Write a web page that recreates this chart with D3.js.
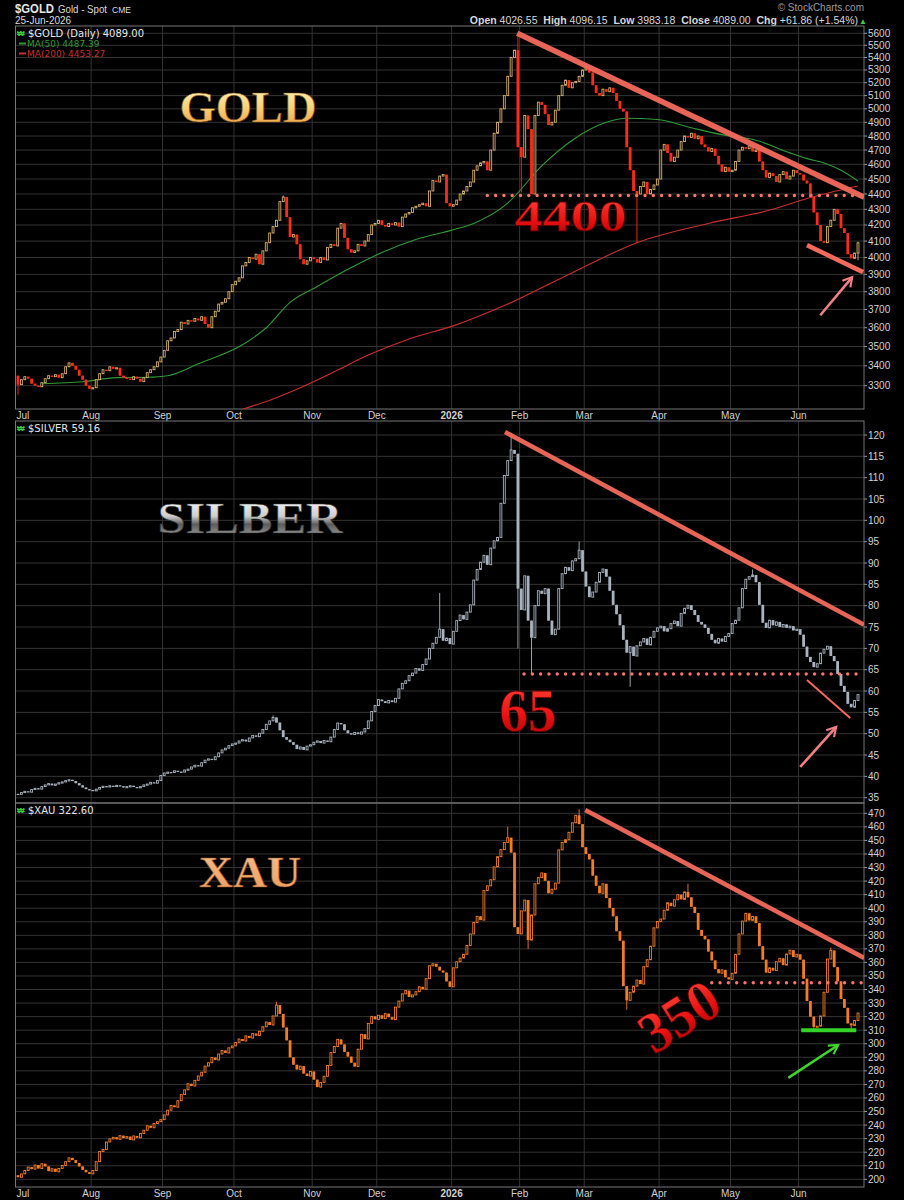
<!DOCTYPE html>
<html>
<head>
<meta charset="utf-8">
<script src="https://cdn.jsdelivr.net/npm/d3@7"></script>
<style>
  body { margin: 0; background: #000; }
  svg { display: block; }
  text { font-family: "Liberation Sans", Arial, sans-serif; }
</style>
</head>
<body>
<svg id="chart" width="904" height="1200"></svg>
<script>
// trading calendar (weekdays minus exchange holidays)
var holidays = ["2025-07-04", "2025-09-01", "2025-11-27", "2025-12-25", "2026-01-01",
  "2026-01-19", "2026-02-16", "2026-04-03", "2026-05-25", "2026-06-19"];
var monthLabels = ["Jul", "Aug", "Sep", "Oct", "Nov", "Dec", "2026", "Feb", "Mar", "Apr", "May", "Jun"];

var goldTicks = [3300, 3400, 3500, 3600, 3700, 3800, 3900, 4000, 4100, 4200, 4300, 4400, 4500,
  4600, 4700, 4800, 4900, 5000, 5100, 5200, 5300, 5400, 5500, 5600];
var silverTicks = [35, 40, 45, 50, 55, 60, 65, 70, 75, 80, 85, 90, 95, 100, 105, 110, 115, 120];
var xauTicks = [200, 210, 220, 230, 240, 250, 260, 270, 280, 290, 300, 310, 320, 330, 340, 350,
  360, 370, 380, 390, 400, 410, 420, 430, 440, 450, 460, 470];

// daily closes (one line per month)
var goldFirstOpen = 3350;
var goldClose = [
  3305, 3330, 3345, 3335, 3310, 3300, 3295, 3315, 3335, 3350, 3345, 3355, 3340, 3360, 3395, 3415, 3400, 3380, 3350, 3330, 3300, 3285,
  3290, 3330, 3360, 3380, 3375, 3395, 3385, 3390, 3350, 3340, 3335, 3330, 3345, 3335, 3320, 3340, 3365, 3380, 3395, 3420, 3445,
  3480, 3530, 3545, 3580, 3590, 3630, 3620, 3640, 3635, 3650, 3640, 3660, 3620, 3600, 3660, 3690, 3730, 3740, 3760, 3800, 3840,
  3860, 3880, 3950, 3970, 4000, 3990, 4020, 3960, 4040, 4090, 4150, 4190, 4230, 4350, 4380, 4250, 4125, 4140, 4080, 3990, 3960, 3980, 4000,
  3990, 3970, 4000, 3985, 4060, 4080, 4070, 4180, 4210, 4120, 4050, 4030, 4040, 4080, 4070, 4100, 4140, 4200, 4210,
  4230, 4200, 4190, 4210, 4200, 4215, 4190, 4250, 4270, 4280, 4310, 4320, 4330, 4340, 4320, 4420, 4490, 4480, 4520, 4530, 4340, 4320,
  4330, 4360, 4400, 4420, 4450, 4480, 4560, 4590, 4610, 4620, 4560, 4700, 4820, 4900, 5000, 5100, 5250, 5400, 5460, 4720,
  4650, 4950, 4850, 4400, 4950, 5050, 5030, 4960, 4880, 4900, 4990, 5100, 5180, 5220, 5160, 5200, 5210, 5250, 5300,
  5330, 5280, 5180, 5120, 5100, 5150, 5130, 5160, 5120, 5060, 5000, 4980, 4720, 4560, 4420, 4400, 4450, 4480, 4400, 4430, 4460, 4500,
  4700, 4740, 4680, 4620, 4650, 4700, 4760, 4800, 4790, 4820, 4780, 4800, 4740, 4720, 4690, 4710, 4660, 4600, 4550, 4580, 4550,
  4560, 4620, 4700, 4720, 4710, 4730, 4690, 4700, 4620, 4560, 4510, 4540, 4520, 4480, 4530, 4550, 4500, 4520, 4560, 4540,
  4530, 4490, 4470, 4380, 4280, 4200, 4100, 4090, 4190, 4230, 4300, 4270, 4180, 4150, 4020, 3995, 4027, 4089
];
var goldHighs = [[147, 5600], [78, 4390], [247, 4096]];
var goldLows = [[0, 3255], [148, 4410], [182, 4090], [247, 3983]];
var goldMa50 = [[7, 3310], [19, 3320], [29, 3340], [38, 3342], [44, 3350], [53, 3410], [67, 3520], [73, 3600],
  [80, 3740], [88, 3830], [98, 3940], [107, 4030], [117, 4110], [128, 4170], [134, 4210], [144, 4340],
  [154, 4590], [163, 4770], [173, 4900], [179, 4930], [188, 4920], [198, 4860], [207, 4810], [217, 4770],
  [227, 4680], [232, 4640], [237, 4610], [242, 4560], [247, 4487]];
var goldMa200 = [[66, 3185], [75, 3235], [83, 3290], [93, 3370], [103, 3455], [115, 3540], [128, 3610],
  [144, 3730], [163, 3910], [182, 4090], [203, 4210], [222, 4300], [232, 4370], [247, 4453]];

var silverFirstOpen = 35.9;
var silverClose = [
  35.8, 36.2, 36.5, 36.3, 36.9, 37.2, 37.0, 37.6, 38.0, 38.3, 37.9, 38.2, 38.5, 38.7, 39.0, 39.2, 38.9, 38.4, 37.9, 37.4, 37.0, 36.8,
  36.6, 37.0, 37.4, 37.7, 37.5, 37.8, 37.6, 37.9, 37.7, 37.4, 37.6, 37.8, 37.5, 37.3, 37.6, 38.0, 38.2, 38.6, 38.4, 39.0, 40.2,
  40.8, 41.0, 40.9, 41.3, 41.1, 41.0, 41.5, 41.7, 42.2, 42.6, 42.4, 43.2, 43.8, 44.1, 43.9, 44.6, 45.5, 46.2, 46.6, 47.2, 47.6,
  47.8, 48.3, 48.6, 48.2, 49.0, 49.6, 49.3, 50.1, 51.0, 52.2, 53.0, 53.8, 52.6, 50.8, 49.2, 48.6, 48.0, 47.4, 46.4, 46.9, 46.2, 47.1, 47.4,
  48.0, 48.3, 47.8, 48.4, 48.1, 49.2, 51.0, 52.5, 52.2, 50.8, 50.1, 49.8, 50.3, 49.9, 50.4, 51.2, 53.0, 55.2, 56.6,
  58.0, 57.6, 57.2, 57.8, 57.4, 58.3, 60.5, 61.8, 62.4, 63.6, 64.2, 65.3, 64.8, 66.2, 67.5, 70.0, 71.2, 72.6, 74.5, 71.8, 72.4, 71.0,
  74.0, 76.5, 77.8, 76.8, 78.5, 80.2, 86.0, 88.5, 90.2, 91.8, 89.6, 93.5, 95.2, 96.0, 104.0, 110.5, 114.0, 116.5, 115.6, 84.0,
  79.0, 87.0, 76.5, 72.5, 80.0, 83.5, 82.8, 84.0, 76.5, 73.2, 74.5, 84.0, 87.5, 89.0, 88.2, 90.5, 91.0, 93.0, 88.0,
  84.5, 82.0, 83.2, 85.5, 87.8, 88.6, 86.8, 83.5, 80.2, 78.0, 75.4, 72.0, 69.0, 70.4, 68.2, 70.6, 71.5, 72.3, 70.8, 72.6, 74.0, 74.8,
  75.2, 74.0, 74.6, 75.8, 76.4, 75.2, 78.2, 79.4, 80.1, 79.0, 77.8, 76.2, 75.6, 74.8, 73.4, 72.0, 71.2, 72.3, 71.6, 72.8, 73.5,
  75.8, 76.6, 79.5, 84.0, 86.2, 86.8, 87.2, 85.5, 80.2, 76.0, 74.8, 76.6, 75.4, 76.2, 75.0, 75.6, 74.8, 75.2, 74.2, 74.5,
  73.2, 70.4, 68.0, 66.8, 65.6, 66.4, 68.9, 69.8, 70.5, 68.2, 67.0, 64.0, 61.2, 59.8, 57.0, 56.2, 57.8, 59.16
];
var silverHighs = [[124, 83], [145, 120.5], [165, 95], [216, 88.5], [75, 54.3]];
var silverLows = [[151, 64], [180, 61], [147, 70]];

var xauFirstOpen = 203;
var xauClose = [
  201.5, 204.0, 206.5, 209.0, 207.5, 210.5, 208.0, 211.5, 209.5, 206.0, 207.8, 205.5, 208.0, 210.2, 213.0, 215.8, 214.2, 212.0, 209.5, 207.0, 205.2, 204.0,
  206.5, 213.0, 220.5, 222.0, 227.5, 229.8, 231.0, 229.5, 232.2, 230.4, 231.5, 229.0, 232.0, 230.6, 233.8, 236.2, 239.5, 238.0, 241.2, 242.5, 244.0,
  247.5, 251.0, 254.5, 253.2, 258.0, 262.5, 266.0, 270.5, 268.8, 273.0, 276.2, 279.0, 283.5, 286.0, 289.8, 288.0, 292.4, 295.0, 293.2, 297.0, 298.4,
  301.0, 303.5, 302.0, 305.8, 304.2, 307.5, 306.0, 309.2, 312.5, 316.0, 313.8, 320.5, 328.5, 322.0, 312.0, 302.5, 290.0, 284.5, 281.0, 283.5, 278.0, 276.2, 279.5,
  273.5, 268.0, 271.5, 276.0, 284.0, 293.5, 298.0, 303.2, 299.5, 294.0, 290.5, 286.0, 283.2, 296.0, 307.0, 303.5, 315.0, 320.2, 318.0,
  321.0, 318.5, 322.2, 319.6, 317.8, 327.0, 331.5, 336.8, 339.2, 334.5, 336.0, 338.4, 342.0, 340.2, 348.0, 357.5, 359.0, 356.8, 354.0, 352.5, 346.0, 342.0,
  356.0, 360.5, 363.2, 366.0, 372.5, 381.0, 389.5, 394.0, 391.2, 413.0, 416.5, 421.0, 430.5, 438.0, 443.2, 448.5, 452.0, 441.0, 386.0, 381.0,
  398.0, 406.0, 376.5, 395.0, 418.0, 422.5, 426.0, 420.2, 411.0, 414.0, 418.5, 443.0, 448.5, 450.5, 456.0, 463.0, 468.5, 462.0, 445.0,
  440.0, 436.0, 424.0, 416.5, 411.0, 418.0, 407.5, 400.2, 394.0, 383.0, 376.0, 342.5, 332.0, 338.0, 342.5, 347.0, 344.0, 356.8, 362.0, 372.0, 385.5, 390.2,
  392.0, 398.5, 404.0, 401.5, 406.2, 410.0, 406.5, 412.0, 408.0, 401.0, 396.5, 384.0, 379.5, 377.0, 368.0, 361.5, 355.0, 352.0, 354.5, 349.0, 347.5,
  352.0, 366.0, 381.0, 390.5, 396.2, 391.0, 394.0, 389.0, 372.0, 362.0, 352.5, 356.0, 354.0, 360.5, 363.0, 358.0, 366.2, 369.0, 364.0, 366.0,
  362.0, 348.0, 331.5, 320.0, 312.5, 313.0, 320.5, 338.0, 362.5, 368.8, 356.5, 346.0, 333.0, 326.5, 315.0, 313.5, 317.2, 322.6
];
var xauHighs = [[144, 460], [165, 473], [197, 418], [239, 371], [76, 331]];
var xauLows = [[179, 325], [234, 310], [245, 310], [150, 370]];

// annotations, in [day index, price]
var goldTrend = [[146.8, 5600], [248.8, 4379]];
var goldChannel = [[232, 4075], [248.5, 3913]];
var goldArrow = [[235.9, 3668], [245.3, 3884]];
var goldLevel = [[138, 4390], [248.5, 4390]];
var silverTrend = [[143.2, 120.7], [248.8, 75.5]];
var silverChannel = [[232, 62.6], [244.7, 53.7]];
var silverArrow = [[230, 42.2], [240.6, 51.6]];
var silverLevel = [[148.8, 64], [248.5, 64]];
var xauTrend = [[166.8, 472.4], [248.8, 363.3]];
var xauSupport = [[230.3, 310], [246.5, 310]];
var xauArrow = [[226.5, 274.8], [241.2, 299.1]];
var xauLevel = [[204, 345], [248.5, 345]];

// ---- calendar
var days = [];
for (var d = new Date(Date.UTC(2025, 6, 1)); d.getTime() <= Date.UTC(2026, 5, 25); d.setUTCDate(d.getUTCDate() + 1)) {
  var wd = d.getUTCDay();
  var s = d.toISOString().slice(0, 10);
  if (wd > 0 && wd < 6 && holidays.indexOf(s) < 0) days.push(s);
}
var monthStarts = [];
days.forEach(function (s, i) {
  if (i == 0 || s.slice(5, 7) != days[i - 1].slice(5, 7)) monthStarts.push(i);
});

var svg = d3.select("#chart");
var plotL = 15.5, plotR = 864;
var x = d3.scaleLinear().domain([0, 247]).range([18, 858]);

var defs = svg.append("defs");
function grad(id, stops) {
  var g = defs.append("linearGradient").attr("id", id).attr("x1", 0).attr("y1", 0).attr("x2", 0).attr("y2", 1);
  stops.forEach(function (s) { g.append("stop").attr("offset", s[0]).attr("stop-color", s[1]); });
}
grad("goldText", [["0%", "#fff7c0"], ["50%", "#f8d27a"], ["100%", "#e8923a"]]);
grad("silverText", [["0%", "#ffffff"], ["45%", "#cfcfcf"], ["62%", "#5c5c5c"], ["100%", "#bdbdbd"]]);
grad("xauText", [["0%", "#f9c08e"], ["100%", "#ec9a5a"]]);
grad("redText", [["0%", "#ff4a3a"], ["60%", "#e81010"], ["100%", "#a00000"]]);

function marker(id, color) {
  defs.append("marker").attr("id", id).attr("viewBox", "0 0 10 10").attr("refX", 8).attr("refY", 5)
    .attr("markerWidth", 5).attr("markerHeight", 5).attr("orient", "auto")
    .append("path").attr("d", "M1,1 L8,5 L1,9").attr("fill", "none").attr("stroke", color).attr("stroke-width", 1.6);
}
marker("pinkHead", "#f27f84");
marker("greenHead", "#3fd62c");

// ---- header
svg.append("text").attr("x", 15).attr("y", 12.5).attr("fill", "#e8e8e8").style("font-size", "13px").style("font-weight", "bold")
  .attr("textLength", 39).attr("lengthAdjust", "spacingAndGlyphs").text("$GOLD");
svg.append("text").attr("x", 58).attr("y", 12.5).attr("fill", "#dcdcdc").style("font-size", "10.5px")
  .attr("textLength", 49).attr("lengthAdjust", "spacingAndGlyphs").text("Gold - Spot");
svg.append("text").attr("x", 112).attr("y", 12.5).attr("fill", "#dcdcdc").style("font-size", "8.5px").text("CME");
svg.append("text").attr("x", 15).attr("y", 23.5).attr("fill", "#dcdcdc").style("font-size", "10px").text("25-Jun-2026");
svg.append("text").attr("x", 864).attr("y", 11).attr("text-anchor", "end").attr("fill", "#9a9a9a").style("font-size", "10px").text("\u00a9 StockCharts.com");
var quote = svg.append("text").attr("x", 858).attr("y", 23.5).attr("text-anchor", "end").style("font-size", "10.5px").attr("fill", "#d8d8d8");
[["Open ", true], ["4026.55  ", false], ["High ", true], ["4096.15  ", false], ["Low ", true], ["3983.18  ", false],
  ["Close ", true], ["4089.00  ", false], ["Chg ", true], ["+61.86 (+1.54%)", false]].forEach(function (p) {
  quote.append("tspan").style("font-weight", p[1] ? "bold" : "normal").attr("xml:space", "preserve").text(p[0]);
});
svg.append("text").attr("x", 859).attr("y", 23.5).attr("fill", "#3ccf3c").style("font-size", "8px").text("\u25b2");

// ---- panels
function drawPanel(p) {
  var g = svg.append("g");
  var clipId = "clip-" + p.name;
  defs.append("clipPath").attr("id", clipId).append("rect")
    .attr("x", plotL).attr("y", p.top).attr("width", plotR - plotL).attr("height", p.bottom - p.top);

  // grid
  g.append("g").selectAll("line").data(p.ticks).enter().append("line")
    .attr("x1", plotL).attr("x2", plotR).attr("y1", d => p.y(d)).attr("y2", d => p.y(d))
    .attr("stroke", "#333").attr("stroke-width", 1);
  g.append("g").selectAll("line").data(monthStarts.slice(1)).enter().append("line")
    .attr("x1", d => x(d) - 1.7).attr("x2", d => x(d) - 1.7).attr("y1", p.top).attr("y2", p.bottom)
    .attr("stroke", "#333").attr("stroke-width", 1);

  // right axis
  var ax = g.append("g").selectAll("g").data(p.ticks).enter().append("g");
  ax.append("line").attr("x1", plotR).attr("x2", plotR + 3).attr("y1", d => p.y(d)).attr("y2", d => p.y(d)).attr("stroke", "#999");
  ax.append("text").attr("x", plotR + 4).attr("y", d => p.y(d)).attr("dy", "0.35em")
    .attr("fill", "#d2d2d2").style("font-size", "10px").text(d => d);

  // frame
  g.append("rect").attr("x", plotL).attr("y", p.top).attr("width", plotR - plotL).attr("height", p.bottom - p.top)
    .attr("fill", "none").attr("stroke", "#777").attr("stroke-width", 1);

  var body = g.append("g").attr("clip-path", "url(#" + clipId + ")");

  // title
  body.append("text").attr("x", p.title.x).attr("y", p.title.y).attr("text-anchor", "middle")
    .attr("fill", p.title.fill).attr("stroke", p.title.stroke).attr("stroke-width", 0.6)
    .style("font-family", "'Liberation Serif', 'DejaVu Serif', serif").style("font-weight", "bold")
    .style("font-size", p.title.size + "px").attr("textLength", p.title.len).attr("lengthAdjust", "spacingAndGlyphs")
    .text(p.title.text);

  // moving averages
  (p.mas || []).forEach(function (m) {
    body.append("path").datum(m.data).attr("fill", "none").attr("stroke", m.color).attr("stroke-width", 1.1)
      .attr("d", d3.line().x(d => x(d[0])).y(d => p.y(d[1])).curve(d3.curveMonotoneX));
  });

  // candles
  var hi = new Map(p.highs), lo = new Map(p.lows);
  var candles = p.close.map(function (c, i) {
    var o = i ? p.close[i - 1] : p.firstOpen;
    var top = Math.max(o, c), bot = Math.min(o, c);
    return {
      i: i, o: o, c: c, up: c >= o,
      h: hi.has(i) ? Math.max(hi.get(i), top) : top,
      l: lo.has(i) ? Math.min(lo.get(i), bot) : bot
    };
  });
  var bw = 2.8;
  var cg = body.append("g").selectAll("g").data(candles).enter().append("g");
  cg.append("line").attr("x1", d => x(d.i)).attr("x2", d => x(d.i))
    .attr("y1", d => p.y(d.h)).attr("y2", d => p.y(d.l))
    .attr("stroke", d => d.up ? p.upColor : p.downColor).attr("stroke-width", 0.9);
  cg.append("rect")
    .attr("x", d => x(d.i) - bw / 2 + (d.up ? 0.45 : 0))
    .attr("width", d => d.up ? bw - 0.9 : bw)
    .attr("y", d => p.y(Math.max(d.o, d.c)))
    .attr("height", d => Math.max(1.2, Math.abs(p.y(d.o) - p.y(d.c))))
    .attr("fill", d => d.up ? "#000" : p.downColor)
    .attr("stroke", d => d.up ? p.upColor : "none").attr("stroke-width", 0.9);

  // annotations
  var line = d3.line().x(d => x(d[0])).y(d => p.y(d[1]));
  body.append("path").datum(p.level).attr("d", line).attr("fill", "none").attr("stroke", "#ff7272")
    .attr("stroke-width", 3.4).attr("stroke-linecap", "round").attr("stroke-dasharray", "0 8.3");
  body.append("path").datum(p.trend).attr("d", line).attr("fill", "none").attr("stroke", "#f26a5c")
    .attr("stroke-opacity", 0.95).attr("stroke-width", p.trendWidth);
  if (p.channel) body.append("path").datum(p.channel).attr("d", line).attr("fill", "none")
    .attr("stroke", "#f26a5c").attr("stroke-width", p.channelWidth);
  if (p.support) body.append("path").datum(p.support).attr("d", line).attr("fill", "none")
    .attr("stroke", "#35d22a").attr("stroke-width", 4);
  body.append("path").datum(p.arrow).attr("d", line).attr("fill", "none").attr("stroke", p.arrowColor)
    .attr("stroke-width", 2.6).attr("marker-end", "url(#" + p.arrowHead + ")");

  var lab = p.label;
  body.append("text").attr("transform", "translate(" + x(lab.i) + "," + p.y(lab.v) + ") rotate(" + lab.rot + ")")
    .attr("text-anchor", "middle").attr("fill", "url(#redText)").attr("stroke", "#5a0000").attr("stroke-width", 0.8)
    .style("font-family", "'Liberation Serif', 'DejaVu Serif', serif").style("font-weight", "bold")
    .style("font-size", lab.size + "px").attr("textLength", lab.len).attr("lengthAdjust", "spacingAndGlyphs")
    .text(lab.text);

  // legend
  var lg = g.append("g");
  lg.append("text").attr("x", 17).attr("y", p.top + 10).attr("fill", "#3ccf3c").style("font-size", "8px").style("font-weight", "bold").text("\u20a9");
  lg.append("text").attr("x", 28).attr("y", p.top + 10.5).attr("fill", "#e6e6e6")
    .style("font-family", "'DejaVu Sans', sans-serif").style("font-size", "10px").text(p.legend);
  (p.mas || []).forEach(function (m, k) {
    var yy = p.top + 21 + k * 10;
    lg.append("line").attr("x1", 19).attr("x2", 26).attr("y1", yy - 3.5).attr("y2", yy - 3.5).attr("stroke", m.color).attr("stroke-width", 2);
    lg.append("text").attr("x", 27).attr("y", yy).attr("fill", m.color)
      .style("font-family", "'DejaVu Sans', sans-serif").style("font-size", "9px").text(m.label);
  });
}

function monthAxis(yPos) {
  svg.append("g").selectAll("text").data(monthStarts).enter().append("text")
    .attr("x", (d, k) => k == 0 ? plotL + 1 : x(d) - 1.7)
    .attr("y", yPos)
    .attr("text-anchor", (d, k) => k == 0 ? "start" : "middle")
    .attr("fill", "#d2d2d2").style("font-size", "10px")
    .style("font-weight", (d, k) => monthLabels[k] == "2026" ? "bold" : "normal")
    .text((d, k) => monthLabels[k]);
}

drawPanel({
  name: "gold", top: 26, bottom: 409,
  y: d3.scaleLog().domain([3300, 5600]).range([385.7, 33.3]),
  ticks: goldTicks, close: goldClose, firstOpen: goldFirstOpen, highs: goldHighs, lows: goldLows,
  upColor: "#d8b06c", downColor: "#ff2a18",
  mas: [{ data: goldMa50, color: "#2f9a35", label: "MA(50) 4487.39" }, { data: goldMa200, color: "#c8302c", label: "MA(200) 4453.27" }],
  legend: "$GOLD (Daily) 4089.00",
  title: { text: "GOLD", x: 248, y: 122, size: 44, len: 137, fill: "url(#goldText)", stroke: "#7a4a10" },
  trend: goldTrend, trendWidth: 5.5, channel: goldChannel, channelWidth: 4.5,
  arrow: goldArrow, arrowColor: "#f27f84", arrowHead: "pinkHead",
  level: goldLevel,
  label: { text: "4400", i: 162.5, v: 4165, rot: 0, size: 44, len: 112 }
});
monthAxis(419);

drawPanel({
  name: "silver", top: 421, bottom: 803,
  y: d3.scaleLinear().domain([35, 120]).range([797.7, 435]),
  ticks: silverTicks, close: silverClose, firstOpen: silverFirstOpen, highs: silverHighs, lows: silverLows,
  upColor: "#a9b3c0", downColor: "#a9b3c0",
  legend: "$SILVER 59.16",
  title: { text: "SILBER", x: 250, y: 533, size: 44, len: 185, fill: "url(#silverText)", stroke: "#333" },
  trend: silverTrend, trendWidth: 4.5, channel: silverChannel, channelWidth: 2,
  arrow: silverArrow, arrowColor: "#f27f84", arrowHead: "pinkHead",
  level: silverLevel,
  label: { text: "65", i: 150, v: 50.6, rot: 0, size: 62, len: 57 }
});

drawPanel({
  name: "xau", top: 803, bottom: 1187,
  y: d3.scaleLinear().domain([200, 470]).range([1179.3, 813.3]),
  ticks: xauTicks, close: xauClose, firstOpen: xauFirstOpen, highs: xauHighs, lows: xauLows,
  upColor: "#f47c28", downColor: "#f47c28",
  legend: "$XAU 322.60",
  title: { text: "XAU", x: 250, y: 887, size: 45, len: 102, fill: "url(#xauText)", stroke: "#8a4a1a" },
  trend: xauTrend, trendWidth: 4.5, support: xauSupport,
  arrow: xauArrow, arrowColor: "#3fd62c", arrowHead: "greenHead",
  level: xauLevel,
  label: { text: "350", i: 197.5, v: 308, rot: -32, size: 58, len: 84 }
});
monthAxis(1197);
</script>
</body>
</html>
